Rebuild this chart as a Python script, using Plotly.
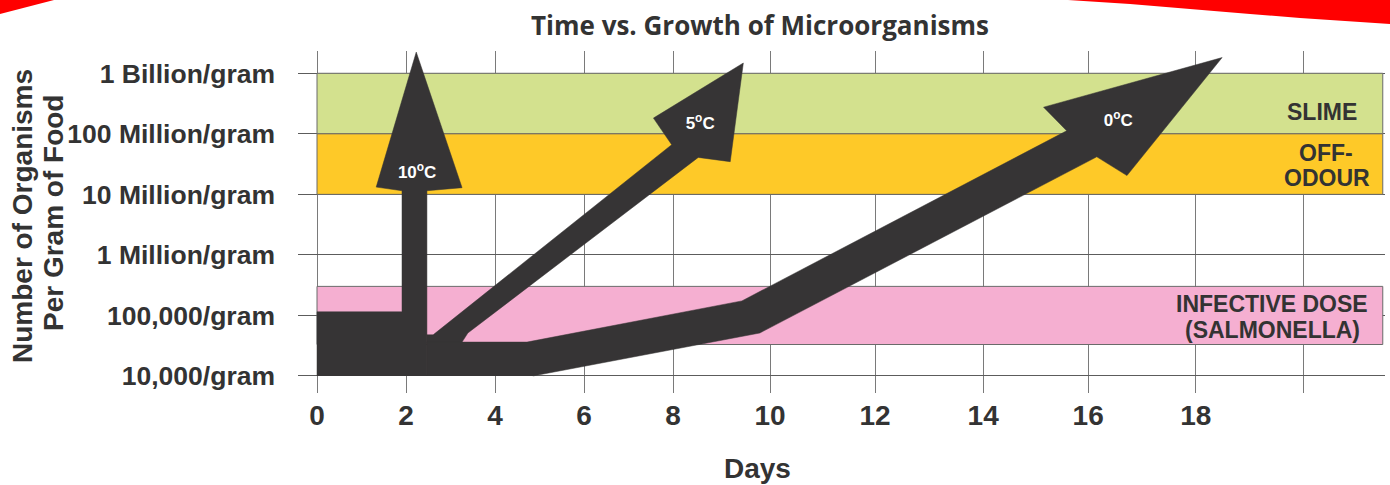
import numpy as np
import plotly.graph_objects as go

# ---------------- data ----------------
# x axis: days (printed axis is not evenly spaced; tick positions below describe the printed scale)
day_ticks = [0, 2, 4, 6, 8, 10, 12, 14, 16, 18, 20]
day_tick_labels = ["0", "2", "4", "6", "8", "10", "12", "14", "16", "18", " "]
day_tick_axis_pos = [0, 2, 4, 6, 8, 10.18, 12.54, 14.97, 17.33, 19.75, 22.16]

# y axis: organisms per gram (log10)
count_ticks_log10 = [4, 5, 6, 7, 8, 9]
count_tick_labels = ["10,000/gram", "100,000/gram", "1 Million/gram",
                     "10 Million/gram", "100 Million/gram", "1 Billion/gram"]

# hazard zones (log10 organisms / gram)
zone_names = ["SLIME", "OFF-ODOUR", "INFECTIVE DOSE (SALMONELLA)"]
zone_low_log10 = [8.0, 7.0, 4.52]
zone_high_log10 = [9.0, 8.0, 5.48]
zone_colors = ["#d3e18e", "#fec928", "#f5afd1"]

# growth arrows: outline in (days, log10 organisms/gram)
arrow10_days = [0, 0, 1.91, 1.91, 1.33, 2.23, 3.26, 2.47, 2.47]
arrow10_log10 = [4.0, 5.06, 5.06, 7.06, 7.12, 9.35, 7.11, 7.06, 4.0]

arrow5_days = [2.47, 2.47, 2.61, 7.97, 7.56, 9.45, 9.18, 8.52, 3.39, 3.26, 3.26]
arrow5_log10 = [4.0, 4.68, 4.68, 7.82, 8.26, 9.17, 7.54, 7.61, 4.71, 4.56, 4.0]

arrow0_days = [2.47, 2.47, 4.72, 9.42, 15.59, 15.15, 18.49, 16.72, 16.16, 9.79, 4.85]
arrow0_log10 = [4.0, 4.56, 4.56, 5.24, 8.05, 8.44, 9.26, 7.31, 7.62, 4.71, 4.0]

arrow_labels = ["10<sup>o</sup>C", "5<sup>o</sup>C", "0<sup>o</sup>C"]
arrow_label_days = [2.25, 8.56, 16.56]
arrow_label_log10 = [7.34, 8.15, 8.20]

# ---------------- styling ----------------
W, H = 1390, 485
ML, MR, MT, MB = 298, 5, 51, 92
ARROW = "#363435"
TXT = "#333333"
FONT = "Liberation Sans"


def to_axis(days):
    return np.interp(days, day_ticks, day_tick_axis_pos)


def px_x(p):
    return (p - ML) / (W - ML - MR)


def px_y(p):
    return (H - MB - p) / (H - MT - MB)


fig = go.Figure()

for d, v in [(arrow10_days, arrow10_log10), (arrow5_days, arrow5_log10), (arrow0_days, arrow0_log10)]:
    fig.add_trace(go.Scatter(
        x=to_axis(d), y=v, mode="lines", fill="toself",
        fillcolor=ARROW, line=dict(color=ARROW, width=0.5),
        hoverinfo="skip", showlegend=False))

fig.add_trace(go.Scatter(
    x=to_axis(arrow_label_days), y=arrow_label_log10, mode="text",
    text=arrow_labels, textposition="middle center",
    textfont=dict(family=FONT, size=17, color="white", weight="bold"),
    hoverinfo="skip", showlegend=False))

shapes = []
for lo, hi, c in zip(zone_low_log10, zone_high_log10, zone_colors):
    shapes.append(dict(type="rect", xref="x", yref="y", x0=0, x1=23.95, y0=lo, y1=hi,
                       fillcolor=c, line=dict(color="#6a6a6a", width=1), layer="between"))

# decorative red swooshes at the top
shapes.append(dict(type="path", xref="paper", yref="paper",
                   path=f"M {px_x(0)},{px_y(0)} L {px_x(54)},{px_y(0)} L {px_x(0)},{px_y(14)} Z",
                   fillcolor="#ff0000", line=dict(width=0), layer="above"))
sw = [(1068, 0), (1130, 4), (1190, 9), (1250, 14), (1300, 18), (1390, 24), (1390, 0)]
path = "M " + " L ".join(f"{px_x(a)},{px_y(b)}" for a, b in sw) + " Z"
shapes.append(dict(type="path", xref="paper", yref="paper", path=path,
                   fillcolor="#ff0000", line=dict(width=0), layer="above"))

ann = []


def add_text(text, x, y, size, angle=0, color=TXT, family=FONT):
    ann.append(dict(text=text, x=px_x(x), y=px_y(y), xref="paper", yref="paper",
                    showarrow=False, xanchor="center", yanchor="middle", textangle=angle,
                    font=dict(family=family, size=size, color=color, weight="bold")))


add_text("Time vs. Growth of Microorganisms", 760, 25, 26, family="Open Sans")
add_text("Days", 757, 468, 28)
add_text("Number of Organisms", 23, 216, 28, angle=-90)
add_text("Per Gram of Food", 53, 213, 28, angle=-90)
add_text("SLIME", 1322, 112, 23)
add_text("OFF-", 1326, 153, 23)
add_text("ODOUR", 1327, 178, 23)
add_text("INFECTIVE DOSE", 1272, 304, 23)
add_text("(SALMONELLA)", 1272, 330, 23)

fig.update_layout(
    width=W, height=H,
    margin=dict(l=ML, r=MR, t=MT, b=MB, autoexpand=False),
    paper_bgcolor="white", plot_bgcolor="white",
    shapes=shapes, annotations=ann,
    xaxis=dict(range=[-0.427, 24.0], tickmode="array", tickvals=day_tick_axis_pos,
               ticktext=day_tick_labels, showgrid=True, gridcolor="#7a7a7a", gridwidth=1.3,
               zeroline=False, showline=False, ticks="", ticklabelstandoff=3,
               tickfont=dict(family=FONT, size=28, color=TXT, weight="bold"), fixedrange=True),
    yaxis=dict(range=[3.719, 9.368], tickmode="array", tickvals=count_ticks_log10,
               ticktext=count_tick_labels, showgrid=True, gridcolor="#5c5c5c", gridwidth=1.3,
               zeroline=False, showline=False, ticks="", ticklabelstandoff=22,
               tickfont=dict(family=FONT, size=26.5, color=TXT, weight="bold"), fixedrange=True),
)

fig.write_html("out.html", config={"displayModeBar": False},
               post_script="document.body.style.margin='0';document.body.style.overflow='hidden';")
